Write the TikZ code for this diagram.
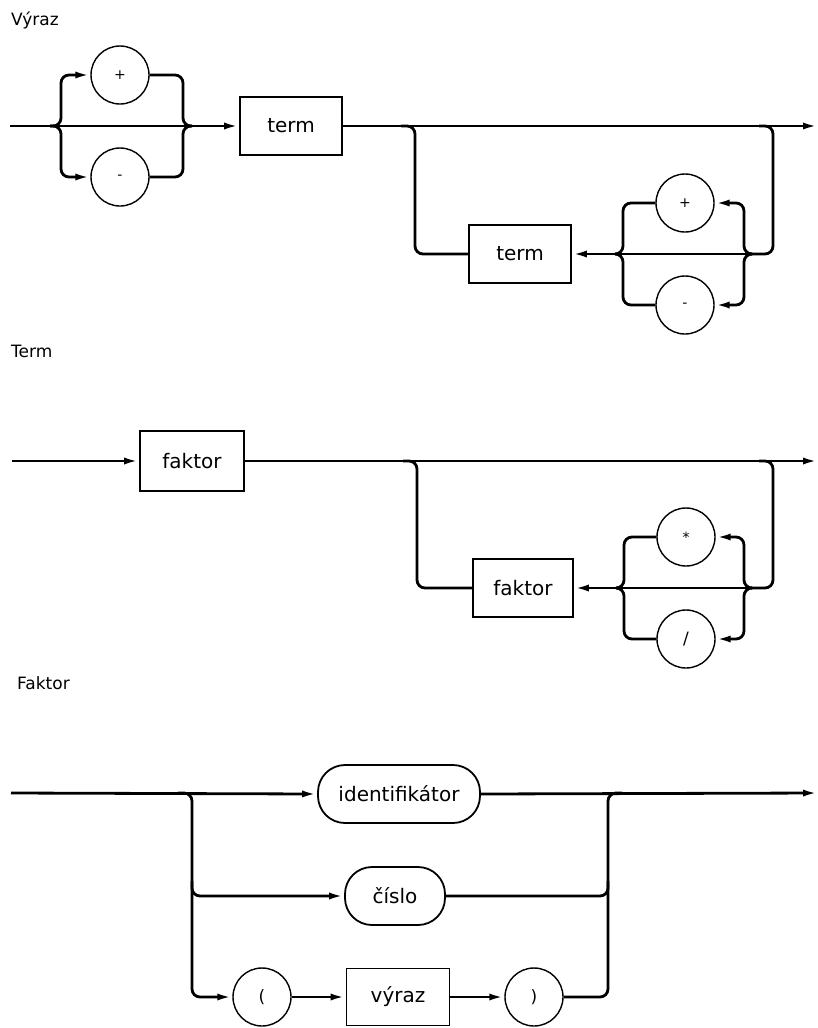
\documentclass[tikz,border=0pt]{standalone}
\usepackage{fontspec}
\setmainfont{DejaVu Sans}
\usetikzlibrary{arrows.meta}
\begin{document}
\begin{tikzpicture}[x=1pt,y=-1pt,
  flow/.style={line width=2.8pt, rounded corners=8pt},
  arr/.style={-{Latex[length=15pt,width=7pt]}},
  op/.style={circle, draw, line width=1.4pt, minimum size=58pt, inner sep=0pt, font=\fontsize{14}{16}\selectfont},
  opbig/.style={op, font=\fontsize{17}{19}\selectfont},
  nt/.style={rectangle, draw, line width=1.8pt, minimum width=102pt, minimum height=58pt, inner sep=0pt, font=\fontsize{20}{23}\selectfont},
  tm/.style={rectangle, rounded corners=27pt, draw, line width=1.8pt, minimum height=58pt, inner sep=0pt, font=\fontsize{20}{23}\selectfont},
  title/.style={anchor=base west, font=\fontsize{17}{20}\selectfont, inner sep=0pt}
]
\useasboundingbox (0,0) rectangle (818,1028);

% ---------------- Vyraz ----------------
\node[title] (tv) at (11,25) {Výraz};
\coordinate (vs) at (10,126);
\coordinate (jL) at (50,126);
\coordinate (jR) at (192,126);
\coordinate (ve) at (818,126);
\node[op] (p1) at (120,75) {+};
\node[op] (m1) at (120,177) {-};
\node[nt] (t1) at (291,126) {term};

\draw[flow] (vs) -- (jL) -- (jR);
\draw[flow,arr] (jL) -- ++(11,0) |- (p1.west);
\draw[flow,arr] (jL) -- ++(11,0) |- (m1.west);
\draw[flow] (p1.east) -| ([xshift=-9pt]jR) -- (jR);
\draw[flow] (m1.east) -| ([xshift=-9pt]jR) -- (jR);
\draw[flow,arr] (jR) -- (t1.west);
\draw[flow,arr] (t1.east) -- (ve);

% loop
\coordinate (c1a) at (415,126);
\coordinate (c1b) at (773,126);
\coordinate (jL2) at (615,254);
\coordinate (jR2) at (751,254);
\node[nt] (t2) at (520,254) {term};
\node[op] (p2) at (685,203) {+};
\node[op] (m2) at (685,305) {-};

\draw[flow] ([xshift=-14pt]c1a) -- (c1a) |- (t2.west);
\draw[flow] ([xshift=-14pt]c1b) -- (c1b) |- (jR2);
\draw[flow,arr] (jR2) -- ++(-7,0) |- (p2.east);
\draw[flow,arr] (jR2) -- ++(-7,0) |- (m2.east);
\draw[flow] (p2.west) -| ([xshift=8pt]jL2) -- (jL2);
\draw[flow] (m2.west) -| ([xshift=8pt]jL2) -- (jL2);
\draw[flow] (jR2) -- (jL2);
\draw[flow,arr] (jL2) -- (t2.east);

% ---------------- Term ----------------
\node[title] (tt) at (11,357) {Term};
\coordinate (ts) at (12,461);
\coordinate (te) at (818,461);
\node[nt, minimum width=104pt, minimum height=60pt] (f1) at (192,461) {faktor};
\draw[flow,arr] (ts) -- (f1.west);
\draw[flow,arr] (f1.east) -- (te);

\coordinate (c2a) at (417,461);
\coordinate (c2b) at (773,461);
\coordinate (jL3) at (616,588);
\coordinate (jR3) at (751,588);
\node[nt, minimum width=100pt] (f2) at (523,588) {faktor};
\node[op] (p3) at (686,537) {*};
\node[opbig] (m3) at (686,639) {/};

\draw[flow] ([xshift=-14pt]c2a) -- (c2a) |- (f2.west);
\draw[flow] ([xshift=-14pt]c2b) -- (c2b) |- (jR3);
\draw[flow,arr] (jR3) -- ++(-7,0) |- (p3.east);
\draw[flow,arr] (jR3) -- ++(-7,0) |- (m3.east);
\draw[flow] (p3.west) -| ([xshift=8pt]jL3) -- (jL3);
\draw[flow] (m3.west) -| ([xshift=8pt]jL3) -- (jL3);
\draw[flow] (jR3) -- (jL3);
\draw[flow,arr] (jL3) -- (f2.east);

% ---------------- Faktor ----------------
\node[title] (tf) at (17,689) {Faktor};
\coordinate (fs) at (11,793);
\coordinate (fa) at (192,793);
\coordinate (fb) at (192,896);
\coordinate (fc) at (608,793);
\coordinate (fd) at (608,896);
\coordinate (fe) at (818,793);
\node[tm, minimum width=162pt] (id) at (399,794) {identifikátor};
\node[tm, minimum width=100pt] (cis) at (395,896) {číslo};
\node[opbig] (lp) at (262,997) {(};
\node[nt, minimum width=103pt, minimum height=57pt] (vy) at (398,997) {výraz};
\node[opbig] (rp) at (534,997) {)};

\draw[flow,arr] (fs) -- (id.west);
\draw[flow,arr] ([xshift=-14pt]fa) -- (fa) |- (lp.west);
\draw[flow,arr] ([yshift=15pt]fb) |- (cis.west);
\draw[flow,arr] (lp.east) -- (vy.west);
\draw[flow,arr] (vy.east) -- (rp.west);
\draw[flow] (rp.east) -| (fc) -- ([xshift=14pt]fc);
\draw[flow] (cis.east) -| ([yshift=15pt]fd);
\draw[flow,arr] (id.east) -- (fe);
\end{tikzpicture}
\end{document}
